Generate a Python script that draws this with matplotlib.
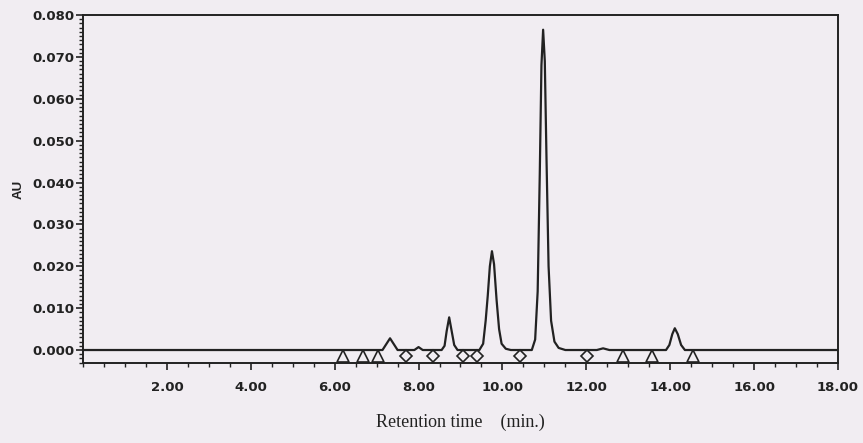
import numpy as np
import matplotlib
matplotlib.use("Agg")
from matplotlib import pyplot as plt
from matplotlib.ticker import MultipleLocator, FormatStrFormatter

# chromatogram trace (min, AU)
trace_time = [0.00, 7.14, 7.23, 7.32, 7.41, 7.50,
              7.90, 8.00, 8.10,
              8.55, 8.62, 8.67, 8.73, 8.79, 8.85, 8.93,
              9.45, 9.54, 9.60, 9.65, 9.70, 9.75, 9.80, 9.86, 9.92, 9.98, 10.08, 10.20,
              10.70, 10.78, 10.84, 10.89, 10.93, 10.97, 11.01, 11.05, 11.10, 11.16, 11.24, 11.34, 11.50,
              12.25, 12.40, 12.55,
              13.90, 13.98, 14.05, 14.11, 14.18, 14.26, 14.35, 18.00]
trace_au = [0.0, 0.0, 0.0014, 0.0028, 0.0014, 0.0,
            0.0, 0.0007, 0.0,
            0.0, 0.0010, 0.0045, 0.0078, 0.0045, 0.0012, 0.0,
            0.0, 0.0015, 0.0070, 0.0130, 0.0200, 0.0236, 0.0205, 0.0120, 0.0050, 0.0015, 0.0003, 0.0,
            0.0, 0.0025, 0.0140, 0.0420, 0.0680, 0.0765, 0.0690, 0.0460, 0.0200, 0.0070, 0.0020, 0.0005, 0.0,
            0.0, 0.0004, 0.0,
            0.0, 0.0012, 0.0038, 0.0052, 0.0038, 0.0012, 0.0, 0.0]

# integration marks below the baseline
triangle_times = [6.21, 6.67, 7.04, 12.87, 13.56, 14.54]
diamond_times = [7.70, 8.34, 9.07, 9.40, 10.42, 12.01]
mark_level = -0.0014

x_ticks = [2, 4, 6, 8, 10, 12, 14, 16, 18]
y_ticks = [0.000, 0.010, 0.020, 0.030, 0.040, 0.050, 0.060, 0.070, 0.080]

paper = "#f1edf2"
ink = "#222222"

fig = plt.figure(figsize=(8.63, 4.43), dpi=100, facecolor=paper)
ax = fig.add_axes([0.0962, 0.1806, 0.8748, 0.7854], facecolor=paper)

ax.plot(trace_time, trace_au, color=ink, lw=1.6)
ax.plot(triangle_times, [mark_level] * len(triangle_times), ls="none", marker="^",
        ms=9, mfc="none", mec=ink, mew=1.2)
ax.plot(diamond_times, [mark_level] * len(diamond_times), ls="none", marker="D",
        ms=6.5, mfc="none", mec=ink, mew=1.2)

ax.set_xlim(0, 18.0)
ax.set_ylim(-0.0031, 0.080)

ax.set_xticks(x_ticks)
ax.xaxis.set_minor_locator(MultipleLocator(0.5))
ax.xaxis.set_major_formatter(FormatStrFormatter("%.2f"))
ax.set_yticks(y_ticks)
ax.yaxis.set_minor_locator(MultipleLocator(0.001))
ax.yaxis.set_major_formatter(FormatStrFormatter("%.3f"))

tick_family = ["Liberation Sans Narrow", "DejaVu Sans"]
for lab in ax.get_xticklabels() + ax.get_yticklabels():
    lab.set_fontfamily(tick_family)
    lab.set_fontweight("bold")
    lab.set_fontsize(9.5)
    lab.set_color(ink)

ax.tick_params(axis="both", which="major", direction="out", length=5, width=1.2, colors=ink)
ax.tick_params(axis="both", which="minor", direction="out", length=3, width=1.0, colors=ink)
ax.tick_params(axis="x", pad=8)
ax.tick_params(axis="y", pad=1)

for s in ax.spines.values():
    s.set_color(ink)
    s.set_linewidth(1.4)

ax.set_xlabel("Retention time    (min.)", family=["Liberation Serif", "DejaVu Serif"],
              fontsize=13, color=ink, labelpad=14)
ax.set_ylabel("AU", family=["Liberation Sans", "DejaVu Sans"], fontweight="bold",
              fontsize=9.5, color=ink, labelpad=6)

fig.savefig("out.png", dpi=100, facecolor=paper)
